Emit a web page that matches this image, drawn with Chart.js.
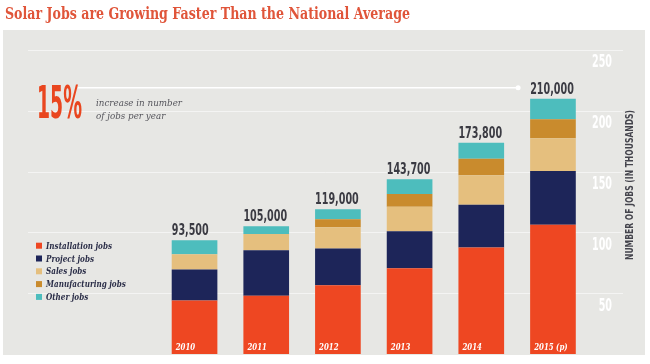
<!DOCTYPE html>
<html><head><meta charset="utf-8">
<script src="https://cdn.jsdelivr.net/npm/chart.js@4"></script>
<style>html,body{margin:0;padding:0;background:#fff;}#wrap{width:650px;height:364px;}</style>
</head><body><div id="wrap"><canvas id="c" width="650" height="364"></canvas></div>
<script>
// ---- data (thousands of jobs) ----
const years = ['2010', '2011', '2012', '2013', '2014', '2015 (p)'];
const installationJobs = [44, 48, 56.5, 70.5, 87.5, 106.2];
const projectJobs = [25.5, 37.3, 30.3, 30.5, 35.2, 44.2];
const salesJobs = [12.5, 13.3, 17.4, 20.1, 24.4, 27];
const manufacturingJobs = [0, 0, 6.6, 10.5, 13.5, 15.6];
const otherJobs = [11.5, 6.4, 8.2, 12.1, 13.2, 17];
const totalLabels = ['93,500', '105,000', '119,000', '143,700', '173,800', '210,000'];
const seriesNames = ['Installation jobs', 'Project jobs', 'Sales jobs', 'Manufacturing jobs', 'Other jobs'];
const yTickValues = [0, 50, 100, 150, 200, 250];
const titleText = 'Solar Jobs are Growing Faster Than the National Average';
const axisTitle = 'NUMBER OF JOBS (IN THOUSANDS)';
const growthText = '15%';
const growthNote = ['increase in number', 'of jobs per year'];

const colors = ['#ee4722', '#1d2559', '#e5bf7e', '#c98b2d', '#4dbdbd'];
const NARROW = "'Liberation Sans Narrow','DejaVu Sans Condensed','Liberation Sans',sans-serif";
const SLAB = "'DejaVu Serif','Liberation Serif',serif";

function fitText(ctx, text, x, y, font, targetW, align) {
  ctx.save();
  ctx.font = font;
  const w = ctx.measureText(text).width;
  const k = targetW / w;
  ctx.translate(x, y);
  ctx.scale(k, 1);
  ctx.textAlign = align || 'left';
  ctx.fillText(text, 0, 0);
  ctx.restore();
  return k;
}
function scaledText(ctx, text, x, y, font, k, align) {
  ctx.save();
  ctx.font = font;
  ctx.translate(x, y);
  ctx.scale(k, 1);
  ctx.textAlign = align || 'left';
  ctx.fillText(text, 0, 0);
  ctx.restore();
}

const backdrop = {
  id: 'backdrop',
  beforeDraw(chart) {
    const ctx = chart.ctx, y = chart.scales.y;
    ctx.save();
    ctx.fillStyle = '#ffffff';
    ctx.fillRect(0, 0, chart.width, chart.height);
    ctx.fillStyle = '#e7e7e4';
    ctx.fillRect(3, 30, 642, 325);
    ctx.strokeStyle = 'rgba(255,255,255,0.55)';
    ctx.lineWidth = 1;
    y.ticks.forEach(t => {
      if (t.value === 0) return;
      const py = Math.round(y.getPixelForValue(t.value)) + 0.5;
      ctx.beginPath(); ctx.moveTo(28, py); ctx.lineTo(623, py); ctx.stroke();
    });
    // y tick labels (condensed, sitting just below their gridline)
    ctx.fillStyle = '#ffffff';
    ctx.textBaseline = 'middle';
    const font = 'bold 17px ' + NARROW;
    ctx.font = font;
    const kTick = 20 / ctx.measureText('250').width;
    y.ticks.forEach(t => {
      if (t.value === 0) return;
      scaledText(ctx, String(t.value), 612, y.getPixelForValue(t.value) + 13, font, kTick, 'right');
    });
    ctx.restore();
  }
};

const annotations = {
  id: 'annotations',
  afterDatasetsDraw(chart) {
    const ctx = chart.ctx;
    const topMeta = chart.getDatasetMeta(chart.data.datasets.length - 1);
    const baseMeta = chart.getDatasetMeta(0);
    ctx.save();
    ctx.textBaseline = 'alphabetic';
    // value labels above bars
    ctx.fillStyle = '#3b3b43';
    let kVal = null;
    topMeta.data.forEach((bar, i) => {
      const left = bar.x - bar.width / 2;
      const font = 'bold 16px ' + NARROW;
      if (kVal === null) { ctx.font = font; kVal = 37 / ctx.measureText(totalLabels[0]).width; }
      scaledText(ctx, totalLabels[i], left, bar.y - 5, font, kVal);
    });
    // year labels inside bars
    ctx.fillStyle = '#ffffff';
    let kYear = null;
    baseMeta.data.forEach((bar, i) => {
      const left = bar.x - bar.width / 2;
      const font = 'italic bold 9.5px ' + SLAB;
      if (kYear === null) { ctx.font = font; kYear = 19.5 / ctx.measureText(years[0]).width; }
      scaledText(ctx, years[i], left + 4, 350, font, kYear);
    });
    // legend
    let kLeg = null;
    chart.data.datasets.forEach((ds, i) => {
      const cy = 245.7 + i * 12.8;
      ctx.fillStyle = ds.backgroundColor;
      ctx.fillRect(36, cy - 3, 6, 6);
      ctx.fillStyle = '#2b2e48';
      const font = 'italic bold 9px ' + SLAB;
      if (kLeg === null) { ctx.font = font; kLeg = 66 / ctx.measureText(ds.label).width; }
      scaledText(ctx, ds.label, 46, cy + 3, font, kLeg);
    });
    // 15% callout
    ctx.fillStyle = '#e9461f';
    fitText(ctx, growthText, 37, 118, 'bold 44px ' + NARROW, 45);
    ctx.fillStyle = '#55555c';
    const kNote = fitText(ctx, growthNote[0], 96, 106, 'italic 9px ' + SLAB, 86);
    scaledText(ctx, growthNote[1], 96, 119, 'italic 9px ' + SLAB, kNote);
    // arrow line to final bar
    const last = topMeta.data[topMeta.data.length - 1];
    const ay = last.y - 11;
    const ax = last.x - last.width / 2 - 12;
    ctx.strokeStyle = '#ffffff';
    ctx.lineWidth = 1.5;
    ctx.beginPath(); ctx.moveTo(78, ay); ctx.lineTo(ax, ay); ctx.stroke();
    ctx.fillStyle = '#ffffff';
    ctx.beginPath(); ctx.arc(ax, ay, 2.5, 0, Math.PI * 2); ctx.fill();
    // axis title (rotated, reading upward)
    ctx.save();
    ctx.translate(632.5, 185);
    ctx.rotate(-Math.PI / 2);
    ctx.fillStyle = '#45454d';
    fitText(ctx, axisTitle, 0, 0, 'bold 10px ' + NARROW, 150, 'center');
    ctx.restore();
    // title
    ctx.fillStyle = '#e0553a';
    fitText(ctx, titleText, 5, 18.5, 'bold 17px ' + SLAB, 405);
    ctx.restore();
  }
};

const seriesData = [installationJobs, projectJobs, salesJobs, manufacturingJobs, otherJobs];

new Chart(document.getElementById('c'), {
  type: 'bar',
  data: {
    labels: years,
    datasets: seriesNames.map((name, i) => ({
      label: name,
      data: seriesData[i],
      backgroundColor: colors[i],
      borderWidth: 0,
      barPercentage: 0.637,
      categoryPercentage: 1
    }))
  },
  options: {
    responsive: false,
    animation: false,
    devicePixelRatio: 1,
    layout: { padding: { left: 158.7, right: 0, top: 50, bottom: 10 } },
    plugins: { legend: { display: false }, title: { display: false }, tooltip: { enabled: false } },
    scales: {
      x: { display: false, stacked: true },
      y: {
        position: 'right',
        stacked: true,
        min: 0,
        max: 250,
        afterFit(s) { s.width = 61.2; },
        afterBuildTicks(s) { s.ticks = yTickValues.map(v => ({ value: v })); },
        grid: { display: false, drawTicks: false },
        border: { display: false },
        ticks: { display: false }
      }
    }
  },
  plugins: [backdrop, annotations]
});
</script>
</body></html>
